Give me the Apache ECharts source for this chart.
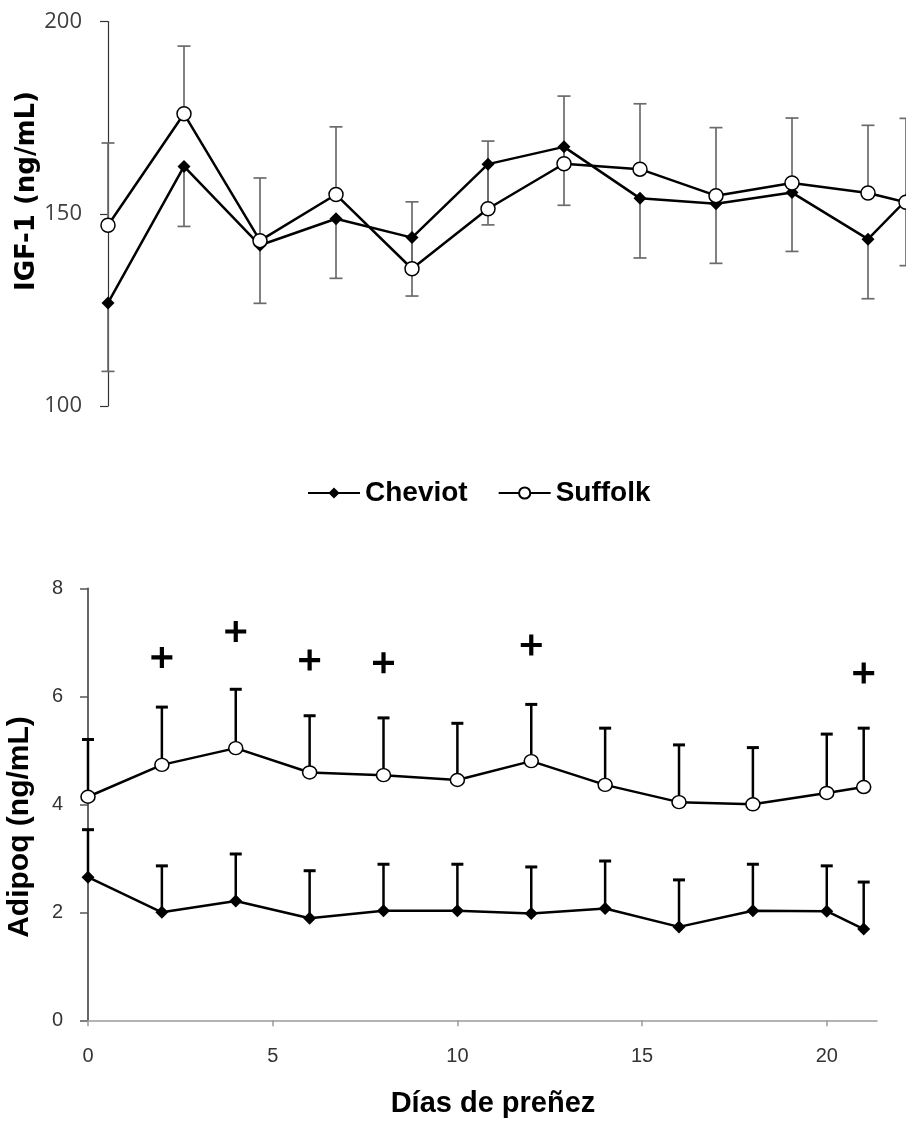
<!DOCTYPE html>
<html><head><meta charset="utf-8">
<script src="https://cdn.jsdelivr.net/npm/echarts@6/dist/echarts.min.js"></script>
<style>html,body{margin:0;padding:0;background:#fff}#c{width:906px;height:1122px}</style>
</head><body><div id="c"></div>
<script>
const days = [0, 2, 4, 6, 8, 10, 12, 14, 16, 18, 20, 21];
// IGF-1 (ng/mL); Cheviot shows minus error bars, Suffolk plus error bars
const igfCheviot   = [126.8, 162.3, 141.8, 148.7, 143.8, 162.9, 167.4, 154.0, 152.6, 155.5, 143.4, 153.5];
const igfCheviotSE = [17.8, 15.6, 15.1, 15.5, 15.2, 15.8, 15.2, 15.5, 15.5, 15.3, 15.5, 17.0];
const igfSuffolk   = [147.0, 176.0, 143.0, 155.0, 135.7, 151.3, 163.0, 161.6, 154.7, 158.0, 155.4, 153.0];
const igfSuffolkSE = [21.4, 17.6, 16.3, 17.6, 17.4, 17.6, 17.6, 17.0, 17.7, 16.9, 17.6, 21.8];
// Adipoq (ng/mL); plus error bars
const adipoqCheviot   = [2.65, 2.00, 2.21, 1.89, 2.03, 2.03, 1.98, 2.07, 1.73, 2.03, 2.02, 1.69];
const adipoqCheviotSE = [0.88, 0.86, 0.87, 0.88, 0.86, 0.86, 0.86, 0.88, 0.87, 0.86, 0.84, 0.87];
const adipoqSuffolk   = [4.14, 4.73, 5.04, 4.59, 4.54, 4.45, 4.80, 4.36, 4.04, 4.00, 4.21, 4.32];
const adipoqSuffolkSE = [1.06, 1.07, 1.09, 1.05, 1.06, 1.05, 1.05, 1.05, 1.06, 1.05, 1.09, 1.09];
// significance marks (+)
const sigDays    = [2, 4, 6, 8, 12, 21];
const sigHeights = [6.72, 7.20, 6.67, 6.62, 6.95, 6.43];
// ticks
const igfTicks = [100, 150, 200];
const adipoqTicks = [0, 2, 4, 6, 8];
const dayTicks = [0, 5, 10, 15, 20];

const zip = (xs, ys) => xs.map((x, i) => [x, ys[i]]);
const errUp = (m, se) => days.map((d, i) => [d, m[i], m[i] + se[i]]);
const errDown = (m, se) => days.map((d, i) => [d, m[i], m[i] - se[i]]);

// value(1) = mean (bar start), value(2) = bar end (cap drawn here)
function errRender(capW, color, lw, capLW) {
  return function (params, api) {
    const x = api.value(0), from = api.value(1), to = api.value(2);
    const p0 = api.coord([x, from]), p1 = api.coord([x, to]);
    return {
      type: 'group', children: [
        { type: 'line', shape: { x1: p0[0], y1: p0[1], x2: p1[0], y2: p1[1] }, style: { stroke: color, lineWidth: lw } },
        { type: 'line', shape: { x1: p1[0] - capW / 2, y1: p1[1], x2: p1[0] + capW / 2, y2: p1[1] }, style: { stroke: color, lineWidth: capLW } }
      ]
    };
  };
}

const chart = echarts.init(document.getElementById('c'), null, { renderer: 'canvas' });
const plusPath = 'path://M8,0H12V8H20V12H12V20H8V12H0V8H8Z';

chart.setOption({
  animation: false,
  backgroundColor: '#fff',
  legend: {
    data: ['Cheviot', 'Suffolk'],
    left: 307, top: 479, padding: 0,
    itemWidth: 52, itemHeight: 14, itemGap: 30,
    textStyle: { fontFamily: 'Liberation Sans', fontWeight: 'bold', fontSize: 28, color: '#000' }
  },
  grid: [
    { left: 108, top: 21.5, width: 802.2, height: 384.5 },
    { left: 88, top: 588.3, width: 789, height: 432 }
  ],
  xAxis: [
    { gridIndex: 0, type: 'value', min: 0, max: 21, show: false },
    {
      gridIndex: 1, type: 'value', min: 0, max: 21.36,
      axisLine: { show: true, lineStyle: { color: '#9a9a9a', width: 1.5 } },
      axisTick: { show: true, length: 6, customValues: dayTicks, lineStyle: { color: '#9a9a9a', width: 1.5 } },
      axisLabel: { customValues: dayTicks, margin: 26, fontFamily: 'Liberation Sans', fontSize: 20, color: '#333' },
      splitLine: { show: false }
    }
  ],
  yAxis: [
    {
      gridIndex: 0, type: 'value', min: 100, max: 200, interval: 50,
      axisLine: { show: true, lineStyle: { color: '#333', width: 1.2 } },
      axisTick: { show: true, length: 8, customValues: igfTicks, lineStyle: { color: '#333', width: 1.2 } },
      axisLabel: { customValues: igfTicks, margin: 26, fontFamily: 'Open Sans', fontSize: 22, color: '#404040' },
      splitLine: { show: false }
    },
    {
      gridIndex: 1, type: 'value', min: 0, max: 8, interval: 2,
      axisLine: { show: true, lineStyle: { color: '#555', width: 1.8 } },
      axisTick: { show: true, length: 8, customValues: adipoqTicks, lineStyle: { color: '#555', width: 1.5 } },
      axisLabel: { customValues: adipoqTicks, margin: 25, fontFamily: 'Liberation Sans', fontSize: 20, color: '#333' },
      splitLine: { show: false }
    }
  ],
  graphic: [
    { type: 'text', x: 27, y: 191, rotation: Math.PI / 2, style: { text: 'IGF-1 (ng/mL)', font: 'bold 26px "DejaVu Sans"', fill: '#000', align: 'center', verticalAlign: 'middle' } },
    { type: 'text', x: 20, y: 827, rotation: Math.PI / 2, style: { text: 'Adipoq (ng/mL)', font: 'bold 30px "Liberation Sans"', fill: '#000', align: 'center', verticalAlign: 'middle' } },
    { type: 'text', x: 493, y: 1104, style: { text: 'Días de preñez', font: 'bold 29px "Liberation Sans"', fill: '#000', align: 'center', verticalAlign: 'middle' } }
  ],
  series: [
    { type: 'custom', name: 'errC1', xAxisIndex: 0, yAxisIndex: 0, z: 1, renderItem: errRender(13, '#6b6b6b', 1.7, 1.7), data: errDown(igfCheviot, igfCheviotSE) },
    { type: 'custom', name: 'errS1', xAxisIndex: 0, yAxisIndex: 0, z: 1, renderItem: errRender(13, '#6b6b6b', 1.7, 1.7), data: errUp(igfSuffolk, igfSuffolkSE) },
    {
      type: 'line', name: 'Cheviot', xAxisIndex: 0, yAxisIndex: 0, z: 3, data: zip(days, igfCheviot),
      symbol: 'diamond', symbolSize: 13, itemStyle: { color: '#000' }, lineStyle: { color: '#000', width: 2.5 }
    },
    {
      type: 'line', name: 'Suffolk', xAxisIndex: 0, yAxisIndex: 0, z: 4, data: zip(days, igfSuffolk),
      symbol: 'circle', symbolSize: 14, itemStyle: { color: '#fff', borderColor: '#000', borderWidth: 1.5 }, lineStyle: { color: '#000', width: 2.5 }
    },
    { type: 'custom', name: 'errC2', xAxisIndex: 1, yAxisIndex: 1, z: 1, renderItem: errRender(12, '#000', 2.5, 3), data: errUp(adipoqCheviot, adipoqCheviotSE) },
    { type: 'custom', name: 'errS2', xAxisIndex: 1, yAxisIndex: 1, z: 1, renderItem: errRender(12, '#000', 2.5, 3), data: errUp(adipoqSuffolk, adipoqSuffolkSE) },
    {
      type: 'line', name: 'Cheviot', xAxisIndex: 1, yAxisIndex: 1, z: 3, data: zip(days, adipoqCheviot),
      symbol: 'diamond', symbolSize: 13, itemStyle: { color: '#000' }, lineStyle: { color: '#000', width: 2.5 }
    },
    {
      type: 'line', name: 'Suffolk', xAxisIndex: 1, yAxisIndex: 1, z: 4, data: zip(days, adipoqSuffolk),
      symbol: 'circle', symbolSize: [14, 13], itemStyle: { color: '#fff', borderColor: '#000', borderWidth: 1.5 }, lineStyle: { color: '#000', width: 2.5 }
    },
    {
      type: 'scatter', name: 'sig', xAxisIndex: 1, yAxisIndex: 1, z: 5, data: zip(sigDays, sigHeights),
      symbol: plusPath, symbolSize: 21, itemStyle: { color: '#000', opacity: 1 }
    }
  ]
});
</script>
</body></html>
